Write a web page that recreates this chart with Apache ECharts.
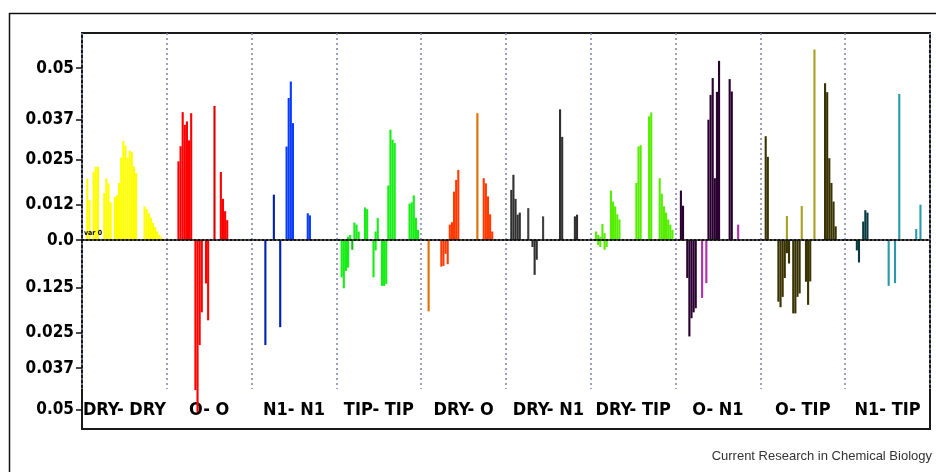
<!DOCTYPE html>
<html>
<head>
<meta charset="utf-8">
<script src="https://cdn.jsdelivr.net/npm/echarts@6/dist/echarts.min.js"></script>
<style>
  html, body { margin: 0; padding: 0; background: #fff; }
  #chart { width: 936px; height: 472px; }
</style>
</head>
<body>
<div id="chart"></div>
<script>
// pair categories shown under the plot
const groupNames = ['DRY- DRY', 'O- O', 'N1- N1', 'TIP- TIP', 'DRY- O', 'DRY- N1', 'DRY- TIP', 'O- N1', 'O- TIP', 'N1- TIP'];
const slotsPerGroup = 40;

// y axis: tick positions and the labels printed at them
const yTickValues = [0.05, 0.0349, 0.0233, 0.0102, 0, -0.0137, -0.027, -0.0372, -0.0494];
const yTickLabels = ['0.05', '0.037', '0.025', '0.012', '0.0', '0.125', '0.025', '0.037', '0.05'];

// bar values, 40 slots per pair (positive part / negative part)
const dryDryPos = [0, 0, 0.0179, 0.0116, 0, 0.0199, 0.0213, 0.0213, 0, 0,
  0.0137, 0.0179, 0.0165, 0.011, 0, 0.0125, 0.013, 0.0166, 0.024, 0.0288,
  0.0275, 0.024, 0.026, 0.0256, 0.0214, 0.0195, 0, 0, 0, 0.0098,
  0.009, 0.0078, 0.0065, 0.005, 0.0038, 0.0025, 0.0015, 0.0008, 0, 0];
const dryDryNeg = [];

const ooPos = [0, 0, 0, 0, 0, 0.0229, 0.0273, 0.0372, 0.0335, 0.0345,
  0.029, 0.0369, 0, 0, 0, 0, 0, 0, 0, 0,
  0, 0, 0.039, 0, 0, 0.0198, 0.012, 0.0084, 0.0058, 0];
const ooNeg = [0, 0, 0, 0, 0, 0, 0, 0, 0, 0,
  0, 0, 0, -0.0436, -0.05, -0.0305, -0.021, 0, -0.0126, -0.0233];

const n1n1Pos = [0, 0, 0, 0, 0, 0, 0, 0, 0, 0,
  0.0132, 0, 0, 0, 0, 0, 0.0272, 0.0413, 0.0461, 0.034,
  0, 0, 0, 0, 0, 0, 0.0078, 0.0072];
const n1n1Neg = [0, 0, 0, 0, 0, 0, -0.0305, 0, 0, 0,
  0, 0, 0, -0.0253];

const tipTipPos = [0, 0, 0, 0, 0, 0.001, 0.0015, 0, 0.0051, 0.0045,
  0.0025, 0, 0, 0.0095, 0.009, 0, 0, 0, 0.0025, 0.0064,
  0, 0, 0, 0, 0.0159, 0.0321, 0.0292, 0.0282, 0, 0,
  0, 0, 0, 0, 0.0106, 0.011, 0.013, 0.0065, 0.003, 0];
const tipTipNeg = [0, 0, -0.0108, -0.014, -0.009, -0.008, 0, -0.0028, 0, 0,
  0, 0, 0, 0, 0, 0, 0, -0.0108, -0.003, 0,
  0, -0.0133, -0.0133, -0.0127];

const dryOPos = [0, 0, 0, 0, 0, 0, 0, 0, 0, 0,
  0, 0, 0, 0.0045, 0.0052, 0.0141, 0.0175, 0.0204, 0, 0,
  0, 0, 0, 0, 0, 0, 0.0369, 0, 0, 0.018,
  0.0165, 0.0127, 0.0075, 0.0025];
const dryONeg = [0, 0, 0, -0.0207, 0, 0, 0, 0, 0, -0.0077,
  -0.0075, -0.004, -0.007];

const dryN1Pos = [0, 0, 0.0146, 0.019, 0.012, 0.0074, 0.008, 0, 0, 0,
  0.0093, 0, 0, 0, 0, 0, 0, 0.0069, 0, 0,
  0, 0, 0, 0, 0, 0.038, 0.03, 0, 0, 0,
  0, 0, 0.0069, 0.0074];
const dryN1Neg = [0, 0, 0, 0, 0, 0, 0, 0, 0, 0,
  0, 0, -0.002, -0.0101, -0.0057];

const dryTipPos = [0, 0, 0.0025, 0.0015, 0.001, 0.0047, 0.002, 0, 0, 0.0144,
  0.0112, 0.0098, 0.0075, 0.006, 0, 0, 0, 0, 0, 0,
  0, 0.0166, 0.0272, 0.0276, 0, 0, 0, 0.036, 0.0371, 0,
  0, 0, 0.018, 0.0135, 0.0098, 0.008, 0.006, 0.0045, 0.003, 0];
const dryTipNeg = [0, 0, 0, -0.0014, -0.002, 0, -0.0028, -0.002];

const on1Pos = [0, 0, 0.0144, 0.01, 0, 0, 0, 0, 0, 0,
  0, 0, 0, 0, 0, 0.035, 0.0422, 0.0471, 0.018, 0.0431,
  0.0521, 0, 0, 0, 0, 0.0468, 0.0432, 0, 0, 0.0045];
const on1Neg = [0, 0, 0, 0, 0, -0.011, -0.028, -0.0227, -0.021, -0.0198,
  0, 0, -0.0168, 0, -0.0125];

const oTipPos = [0, 0, 0.0302, 0.0242, 0, 0, 0, 0, 0, 0,
  0, 0, 0.007, 0, 0, 0, 0, 0, 0, 0.0099,
  0, 0, 0, 0, 0, 0.0554, 0, 0, 0, 0,
  0.0456, 0.043, 0.0238, 0.0166, 0.0112, 0.004];
const oTipNeg = [0, 0, 0, 0, 0, 0, 0, 0, -0.0179, -0.0195,
  -0.0165, -0.011, -0.0038, -0.0068, 0, -0.0213, -0.0213, -0.0165, -0.0155, 0,
  0, -0.0121, -0.0188, -0.012];

const n1TipPos = [0, 0, 0, 0, 0, 0, 0, 0, 0.0054, 0.0087,
  0.008, 0, 0, 0, 0, 0, 0, 0, 0, 0,
  0, 0, 0, 0, 0, 0.0425, 0, 0, 0, 0,
  0, 0, 0, 0.0032, 0, 0.0103];
const n1TipNeg = [0, 0, 0, 0, 0, -0.003, -0.0065, 0, 0, 0,
  0, 0, 0, 0, 0, 0, 0, 0, 0, 0,
  -0.0133, 0, 0, -0.0125];

const posValues = [dryDryPos, ooPos, n1n1Pos, tipTipPos, dryOPos, dryN1Pos, dryTipPos, on1Pos, oTipPos, n1TipPos];
const negValues = [dryDryNeg, ooNeg, n1n1Neg, tipTipNeg, dryONeg, dryN1Neg, dryTipNeg, on1Neg, oTipNeg, n1TipNeg];

// fill of clustered bars and colour of lone thin bars, per pair
const fillColors = ['#ffff00', '#ff0000', '#0a3cff', '#14ee14', '#ff3a00', '#303030', '#55ee00', '#2a0030', '#383300', '#073a40'];
const loneColors = ['#f0f000', '#e00000', '#0020b0', '#10c010', '#e07000', '#404040', '#50d800', '#b030b0', '#a8a020', '#2a9aa8'];

const slotCount = groupNames.length * slotsPerGroup;
const slotLabels = [];
for (let k = 0; k < slotCount; k++) slotLabels.push('s' + k);

function spread(g, arr) {
  const out = [];
  for (let k = 0; k < slotCount; k++) out.push('-');
  arr.forEach(function (v, i) { if (v) out[g * slotsPerGroup + i] = v; });
  return out;
}

function makeSeries(g, arr) {
  return {
    type: 'bar',
    data: spread(g, arr),
    barGap: '-100%',
    barCategoryGap: '0%',
    silent: true,
    itemStyle: {
      color: function (p) {
        const i = p.dataIndex - g * slotsPerGroup;
        const alone = !arr[i - 1] && !arr[i + 1];
        return alone ? loneColors[g] : fillColors[g];
      },
      borderWidth: 0
    }
  };
}

const series = [];
for (let g = 0; g < groupNames.length; g++) {
  series.push(makeSeries(g, posValues[g]));
  if (negValues[g].length) series.push(makeSeries(g, negValues[g]));
}

function tickLabel(v) {
  const i = yTickValues.findIndex(function (t) { return Math.abs(t - v) < 1e-7; });
  return i >= 0 ? yTickLabels[i] : '';
}

const labelFont = { fontFamily: 'DejaVu Sans Condensed', fontWeight: 'bold', fontSize: 17, color: '#000' };

let myChart = echarts.init(document.getElementById('chart'));

let option = {
  animation: false,
  backgroundColor: '#fff',
  grid: [
    { left: 82, right: 6, top: 33, bottom: 43, show: true, borderColor: '#1a1a1a', borderWidth: 2, backgroundColor: '#fff' },
    { left: 82, right: 6, top: 33, bottom: 83 }
  ],
  xAxis: [
    {
      type: 'category', gridIndex: 0, data: slotLabels, z: 10,
      axisLine: { onZero: true, lineStyle: { color: '#111', width: 2, type: [2, 2] } },
      axisTick: { show: false }, axisLabel: { show: false }, splitLine: { show: false }
    },
    {
      type: 'category', gridIndex: 0, data: groupNames, position: 'bottom',
      axisLine: { show: false }, axisTick: { show: false }, splitLine: { show: false },
      axisLabel: Object.assign({ inside: true, margin: 10, interval: 0 }, labelFont, { fontSize: 18 })
    },
    {
      type: 'category', gridIndex: 1, data: groupNames,
      axisLine: { show: false }, axisTick: { show: false }, axisLabel: { show: false },
      splitLine: { show: true, interval: 0, lineStyle: { color: '#7c7fb0', width: 1.5, type: [2, 3] } }
    }
  ],
  yAxis: [
    {
      type: 'value', gridIndex: 0, min: -0.0549, max: 0.0602,
      axisLine: { show: false },
      splitLine: { show: false },
      axisTick: { show: true, customValues: yTickValues, length: 6, lineStyle: { color: '#111', width: 1.5 } },
      axisLabel: Object.assign({ customValues: yTickValues, margin: 8, formatter: tickLabel }, labelFont)
    },
    { type: 'value', gridIndex: 1, show: false }
  ],
  graphic: [
    { type: 'rect', shape: { x: 9.5, y: 13.5, width: 940, height: 470 }, style: { fill: null, stroke: '#111', lineWidth: 1.5 }, z: -1 },
    { type: 'text', x: 84, y: 230, style: { text: 'var 0', font: 'bold 7px DejaVu Sans Condensed', fill: '#000' }, z: 20 },
    { type: 'text', x: 932, y: 456, style: { text: 'Current Research in Chemical Biology', font: '13px Liberation Sans', fill: '#333', textAlign: 'right', textVerticalAlign: 'middle' } }
  ],
  series: series
};

myChart.setOption(option);
window.addEventListener('resize', function () {
  myChart.resize();
});
</script>
</body>
</html>
